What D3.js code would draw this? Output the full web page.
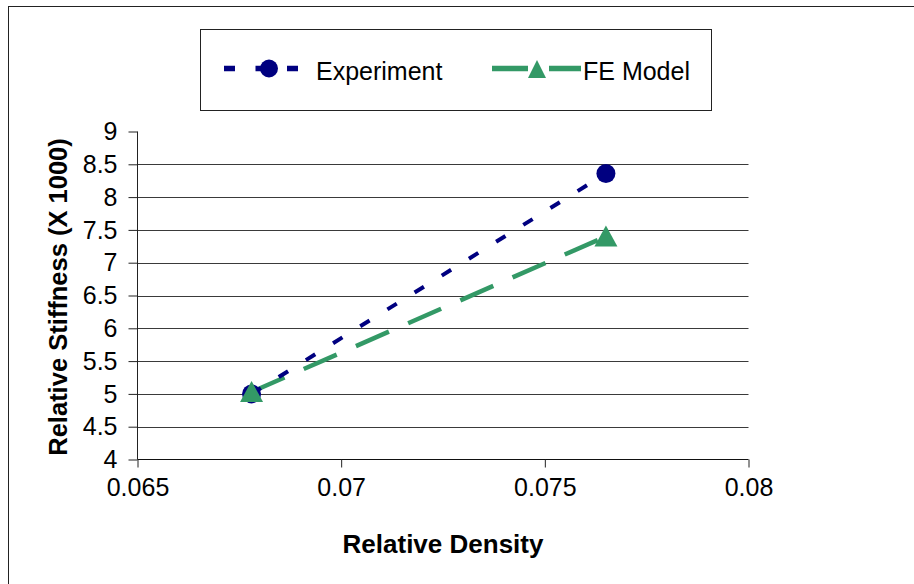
<!DOCTYPE html>
<html><head><meta charset="utf-8">
<script src="https://cdn.jsdelivr.net/npm/d3@7"></script>
<style>body{margin:0;background:#fff}svg{display:block}text{font-family:"Liberation Sans",Arial,sans-serif}</style>
</head><body>
<svg id="c" width="914" height="584"></svg>
<script>
const density = [0.0678, 0.0765];
const experiment = [5.0, 8.36];
const feModel = [5.03, 7.4];
const xTicks = [0.065, 0.07, 0.075, 0.08];
const yTicks = [4, 4.5, 5, 5.5, 6, 6.5, 7, 7.5, 8, 8.5, 9];
const seriesNames = ["Experiment", "FE Model"];

const svg = d3.select("#c");
const x = d3.scaleLinear().domain([0.065, 0.08]).range([137.5, 748.5]);
const y = d3.scaleLinear().domain([4, 9]).range([459.5, 131.5]);

// outer border
svg.append("rect").attr("x",8.5).attr("y",6.5).attr("width",1000).attr("height",1000)
  .attr("fill","none").attr("stroke","#222").attr("stroke-width",1);

// gridlines
svg.append("g").selectAll("line").data(yTicks.filter(d=>d>4 && d<9)).join("line")
  .attr("x1",137.5).attr("x2",748.5).attr("y1",d=>Math.round(y(d))+0.5).attr("y2",d=>Math.round(y(d))+0.5)
  .attr("stroke","#3a3a3a").attr("stroke-width",1);

// y axis
const yAxis = d3.axisLeft(y).tickValues(yTicks).tickSize(9).tickPadding(11).tickFormat(d=>d3.format("")(d));
const gy = svg.append("g").attr("transform","translate(137.5,0)").call(yAxis);
gy.select(".domain").attr("d","M0,131.5V459.5").attr("stroke","#222");
gy.selectAll(".tick line").attr("stroke","#222");
gy.selectAll(".tick text").attr("font-size",25).attr("fill","#000").attr("dy","0.33em").attr("font-family","'Liberation Sans',Arial,sans-serif");

// x axis
const xAxis = d3.axisBottom(x).tickValues(xTicks).tickSize(8).tickPadding(10).tickFormat(d=>d3.format("")(d));
const gx = svg.append("g").attr("transform","translate(0,459.5)").call(xAxis);
gx.select(".domain").attr("d","M137.5,0H748.5").attr("stroke","#111");
gx.selectAll(".tick line").attr("stroke","#222");
gx.selectAll(".tick text").attr("font-size",25).attr("fill","#000").attr("dy","0.72em").attr("font-family","'Liberation Sans',Arial,sans-serif");

// axis titles
svg.append("text").attr("x",443).attr("y",553).attr("text-anchor","middle")
  .attr("font-size",26).attr("font-weight","bold").text("Relative Density");
svg.append("text").attr("transform","translate(67,297) rotate(-90)").attr("text-anchor","middle")
  .attr("font-size",25.5).attr("font-weight","bold").text("Relative Stiffness (X 1000)");

const line = d3.line().x(d=>x(d[0])).y(d=>y(d[1]));
const expPts = density.map((d,i)=>[d,experiment[i]]);
const fePts = density.map((d,i)=>[d,feModel[i]]);

const navy = "#000080", green = "#339966";

svg.append("path").attr("d",line(fePts)).attr("fill","none").attr("stroke",green)
  .attr("stroke-width",4.5).attr("stroke-dasharray","36,21");
svg.append("path").attr("d",line(expPts)).attr("fill","none").attr("stroke",navy)
  .attr("stroke-width",4).attr("stroke-dasharray","11,21");

const tri = d3.symbol().type(d3.symbolTriangle);
svg.selectAll(".e").data(expPts).join("circle").attr("cx",d=>x(d[0])).attr("cy",d=>y(d[1])).attr("r",9.5).attr("fill",navy);
svg.selectAll(".f").data(fePts).join("path")
  .attr("d", "M0,-11L11.5,10L-11.5,10Z")
  .attr("transform",d=>`translate(${x(d[0])},${y(d[1])})`).attr("fill",green);

// legend
const lg = svg.append("g");
lg.append("rect").attr("x",200.5).attr("y",29.5).attr("width",511).attr("height",81)
  .attr("fill","#fff").attr("stroke","#222").attr("stroke-width",1);
lg.append("line").attr("x1",224).attr("x2",298).attr("y1",68.5).attr("y2",68.5)
  .attr("stroke",navy).attr("stroke-width",5.5).attr("stroke-dasharray","11,20.5");
lg.append("circle").attr("cx",269).attr("cy",68.5).attr("r",9).attr("fill",navy);
lg.append("text").attr("x",316).attr("y",80).attr("font-size",25).text(seriesNames[0]);
lg.append("line").attr("x1",492).attr("x2",581).attr("y1",68.5).attr("y2",68.5)
  .attr("stroke",green).attr("stroke-width",5.5).attr("stroke-dasharray","36,21");
lg.append("path").attr("d","M0,-9L9,9L-9,9Z").attr("transform","translate(537,69)").attr("fill",green);
lg.append("text").attr("x",583).attr("y",80).attr("font-size",25).text(seriesNames[1]);
</script>
</body></html>
